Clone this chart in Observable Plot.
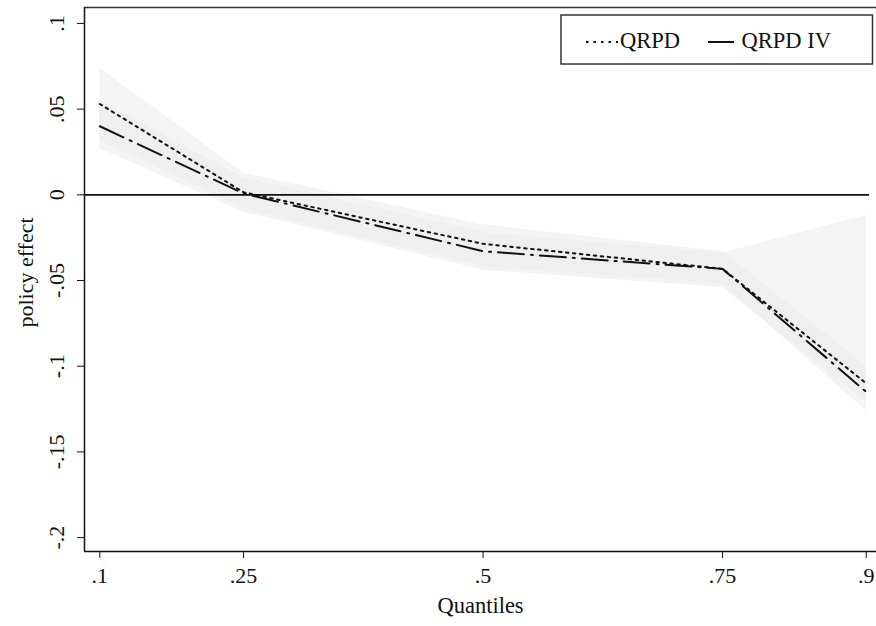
<!DOCTYPE html>
<html>
<head>
<meta charset="utf-8">
<script src="https://cdn.jsdelivr.net/npm/d3@7"></script>
<script src="https://cdn.jsdelivr.net/npm/@observablehq/plot@0.6"></script>
<style>
  html, body { margin: 0; padding: 0; background: #fff; }
  #chart { position: relative; width: 876px; height: 626px; }
</style>
</head>
<body>
<div id="chart"></div>
<script>
// ---- data ----
const quantiles = [0.1, 0.25, 0.5, 0.75, 0.9];
const qrpd      = [0.053, 0.0015, -0.0286, -0.0432, -0.110];
const qrpdIV    = [0.040, 0.0008, -0.0329, -0.0432, -0.115];
const qrpdLo    = [0.032, -0.008, -0.042, -0.052, -0.126];
const qrpdHi    = [0.074, 0.0126, -0.0175, -0.033, -0.100];
const ivLo      = [0.027, -0.0101, -0.044, -0.054, -0.121];
const ivHi      = [0.055, 0.010, -0.022, -0.034, -0.012];

const xTicks  = [0.1, 0.25, 0.5, 0.75, 0.9];
const xLabels = [".1", ".25", ".5", ".75", ".9"];
const yTicks  = [0.1, 0.05, 0, -0.05, -0.1, -0.15, -0.2];
const yLabels = [".1", ".05", "0", "-.05", "-.1", "-.15", "-.2"];

const seriesNames = ["QRPD", "QRPD IV"];
const xDomain = [0.084, 0.9107];
const yDomain = [-0.2081, 0.1093];
const zeroLineEnd = 0.9035;

const rows = quantiles.map((q, i) => ({
  q, qrpd: qrpd[i], iv: qrpdIV[i],
  qLo: qrpdLo[i], qHi: qrpdHi[i], ivLo: ivLo[i], ivHi: ivHi[i]
}));

const font = "'Liberation Serif', 'Times New Roman', serif";
const ink = "#111";

const plot = Plot.plot({
  width: 876,
  height: 626,
  marginLeft: 84,
  marginRight: 0,
  marginTop: 7,
  marginBottom: 75,
  style: { fontFamily: font, fontSize: "22px", background: "#fff", color: ink },
  x: { domain: xDomain },
  y: { domain: yDomain },
  marks: [
    Plot.areaY(rows, { x: "q", y1: "ivLo", y2: "ivHi", fill: "#ebebeb", fillOpacity: 0.55 }),
    Plot.areaY(rows, { x: "q", y1: "qLo", y2: "qHi", fill: "#ebebeb", fillOpacity: 0.55 }),
    Plot.ruleY([0], { x1: xDomain[0], x2: zeroLineEnd, stroke: ink, strokeWidth: 1.7 }),
    Plot.line(rows, { x: "q", y: "qrpd", stroke: ink, strokeWidth: 2, strokeDasharray: "2.5,4.5" }),
    Plot.line(rows, { x: "q", y: "iv", stroke: ink, strokeWidth: 2, strokeDasharray: "26,7,2,7" }),
    Plot.ruleY([yDomain[1]], { stroke: "#333", strokeWidth: 1.5 }),
    Plot.ruleY([yDomain[0]], { stroke: ink, strokeWidth: 1.5 }),
    Plot.ruleX([xDomain[0]], { stroke: ink, strokeWidth: 1.5 }),
    Plot.axisX({
      ticks: xTicks, tickSize: 7, tickPadding: 9, stroke: ink,
      tickFormat: d => xLabels[xTicks.indexOf(d)], label: null, fontSize: 22
    }),
    Plot.axisY({
      ticks: yTicks, tickSize: 7, tickPadding: 14, tickRotate: -90, stroke: ink,
      tickFormat: d => yLabels[yTicks.indexOf(d)], label: null, fontSize: 22
    }),
    Plot.text(["Quantiles"], { frameAnchor: "bottom", dy: 61, lineAnchor: "bottom", textAnchor: "middle", text: d => d, fontSize: 22.5, fill: ink }),
    Plot.text(["policy effect"], { frameAnchor: "left", dx: -52, dy: -7, rotate: -90, lineAnchor: "bottom", textAnchor: "middle", text: d => d, fontSize: 22, fill: ink })
  ]
});

document.getElementById("chart").appendChild(plot);

// legend inside plot region
const svg = d3.select(plot);
const lg = svg.append("g").attr("font-family", font).attr("font-size", 22.5)
  .attr("fill", ink).attr("text-anchor", "start");
lg.append("rect").attr("x", 561).attr("y", 15).attr("width", 311.5).attr("height", 49)
  .attr("fill", "#fff").attr("stroke", "#333").attr("stroke-width", 1.5);
lg.append("line").attr("x1", 586).attr("x2", 618).attr("y1", 42).attr("y2", 42)
  .attr("stroke", ink).attr("stroke-width", 2).attr("stroke-dasharray", "2.5,5");
lg.append("text").attr("x", 620).attr("y", 48).text(seriesNames[0]);
lg.append("line").attr("x1", 708).attr("x2", 734).attr("y1", 42).attr("y2", 42)
  .attr("stroke", ink).attr("stroke-width", 2);
lg.append("text").attr("x", 741.5).attr("y", 48).text(seriesNames[1]);
</script>
</body>
</html>
